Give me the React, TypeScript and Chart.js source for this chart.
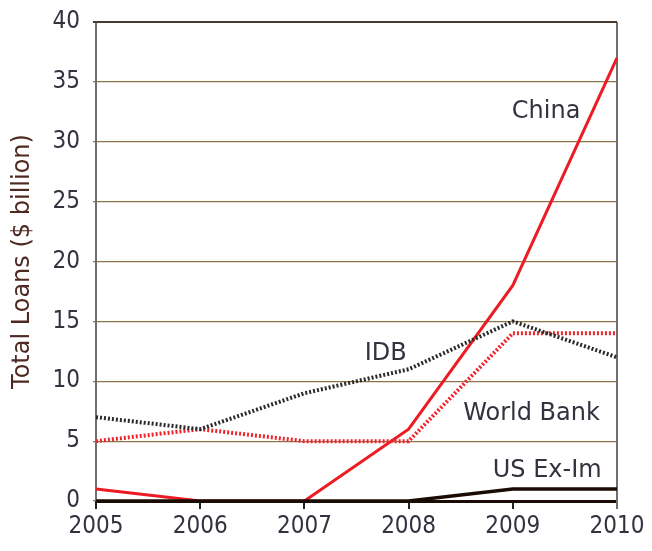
import React, { useEffect, useRef } from "react";
import { Chart, registerables } from "chart.js";

Chart.register(...registerables);

const years = ["2005", "2006", "2007", "2008", "2009", "2010"];
const china = [1, 0, 0, 6, 18, 37];
const idb = [7, 6, 9, 11, 15, 12];
const worldBank = [5, 6, 5, 5, 14, 14];
const usExIm = [0, 0, 0, 0, 1, 1];
const yTicks = [0, 5, 10, 15, 20, 25, 30, 35, 40];

const labelTexts = ["China", "IDB", "World Bank", "US Ex-Im"];
const labelX = [4.32, 2.78, 4.18, 4.33];
const labelY = [31.98, 11.77, 6.76, 2.0];

const TICK_FONT = "'DejaVu Sans Condensed', 'DejaVu Sans', sans-serif";
const TEXT_FONT = "'DejaVu Sans', sans-serif";
const TEXT = "#33333f";
const TITLE = "#4e2a22";

const decorPlugin = {
  id: "decor",
  beforeDatasetsDraw(chart: any) {
    const { ctx, chartArea } = chart;
    ctx.save();
    ctx.strokeStyle = "#707070";
    ctx.lineWidth = 2;
    ctx.beginPath();
    ctx.moveTo(chartArea.right, chartArea.top);
    ctx.lineTo(chartArea.right, chartArea.bottom + 8);
    ctx.stroke();
    ctx.strokeStyle = "#4a3b30";
    ctx.lineWidth = 2;
    ctx.beginPath();
    ctx.moveTo(chartArea.left - 3, chartArea.top);
    ctx.lineTo(chartArea.right, chartArea.top);
    ctx.stroke();
    ctx.restore();
  },
  afterDatasetsDraw(chart: any) {
    const { ctx } = chart;
    const xs = chart.scales.x;
    const ys = chart.scales.y;
    ctx.save();
    ctx.fillStyle = TEXT;
    ctx.font = `24px ${TEXT_FONT}`;
    ctx.textAlign = "center";
    ctx.textBaseline = "alphabetic";
    labelTexts.forEach((t, i) => {
      ctx.fillText(t, xs.getPixelForValue(labelX[i]), ys.getPixelForValue(labelY[i]));
    });
    ctx.restore();
  },
};

export default function App() {
  const ref = useRef<HTMLCanvasElement>(null);
  useEffect(() => {
    document.body.style.margin = "0";
    const chart = new Chart(ref.current!, {
      type: "line",
      data: {
        labels: years,
        datasets: [
          {
            label: "US Ex-Im",
            data: usExIm,
            borderColor: "#1a0c05",
            borderWidth: 3.5,
            pointRadius: 0,
            tension: 0,
          },
          {
            label: "IDB",
            data: idb,
            borderColor: "#2a2a2a",
            borderWidth: 4,
            borderDash: [2, 2],
            pointRadius: 0,
            tension: 0,
          },
          {
            label: "World Bank",
            data: worldBank,
            borderColor: "#f0242c",
            borderWidth: 4,
            borderDash: [2, 2],
            pointRadius: 0,
            tension: 0,
          },
          {
            label: "China",
            data: china,
            borderColor: "#ec1c24",
            borderWidth: 3,
            pointRadius: 0,
            tension: 0,
          },
        ],
      },
      options: {
        animation: false,
        responsive: false,
        maintainAspectRatio: false,
        layout: { padding: { left: 0, right: 35, top: 22, bottom: 0 } },
        plugins: { legend: { display: false }, tooltip: { enabled: false } },
        scales: {
          x: {
            type: "category",
            offset: false,
            grid: {
              drawOnChartArea: false,
              drawTicks: true,
              tickLength: 8,
              color: "#222",
              lineWidth: 2,
            },
            border: { display: true, color: "#1a0c05", width: 3 },
            ticks: {
              color: TEXT,
              font: { family: TICK_FONT, size: 24 },
              padding: 3,
              maxRotation: 0,
              autoSkip: false,
            },
            afterFit(scale: any) {
              scale.height = 50;
              scale.paddingLeft = 0;
              scale.paddingRight = 0;
            },
          },
          y: {
            type: "linear",
            min: 0,
            max: 40,
            afterBuildTicks(scale: any) {
              scale.ticks = yTicks.map((v) => ({ value: v }));
            },
            grid: {
              drawTicks: true,
              tickLength: 3,
              color: (c: any) => (c.tick && c.tick.value === 40 ? "rgba(0,0,0,0)" : "#8e7548"),
              lineWidth: 1.2,
            },
            border: { display: true, color: "#707070", width: 2 },
            ticks: {
              color: TEXT,
              font: { family: TICK_FONT, size: 24 },
              padding: 13,
            },
            title: {
              display: true,
              text: "Total Loans ($ billion)",
              align: "center",
              color: TITLE,
              font: { family: TEXT_FONT, size: 24 },
              padding: { top: 8, bottom: 0 },
            },
            afterFit(scale: any) {
              scale.width = 96;
              scale.paddingTop = 0;
              scale.paddingBottom = 0;
            },
          },
        },
      },
      plugins: [decorPlugin],
    });
    return () => chart.destroy();
  }, []);
  return (
    <div style={{ position: "absolute", left: 0, top: 0, width: 652, height: 551 }}>
      <canvas ref={ref} width={652} height={551} style={{ width: 652, height: 551 }} />
    </div>
  );
}
